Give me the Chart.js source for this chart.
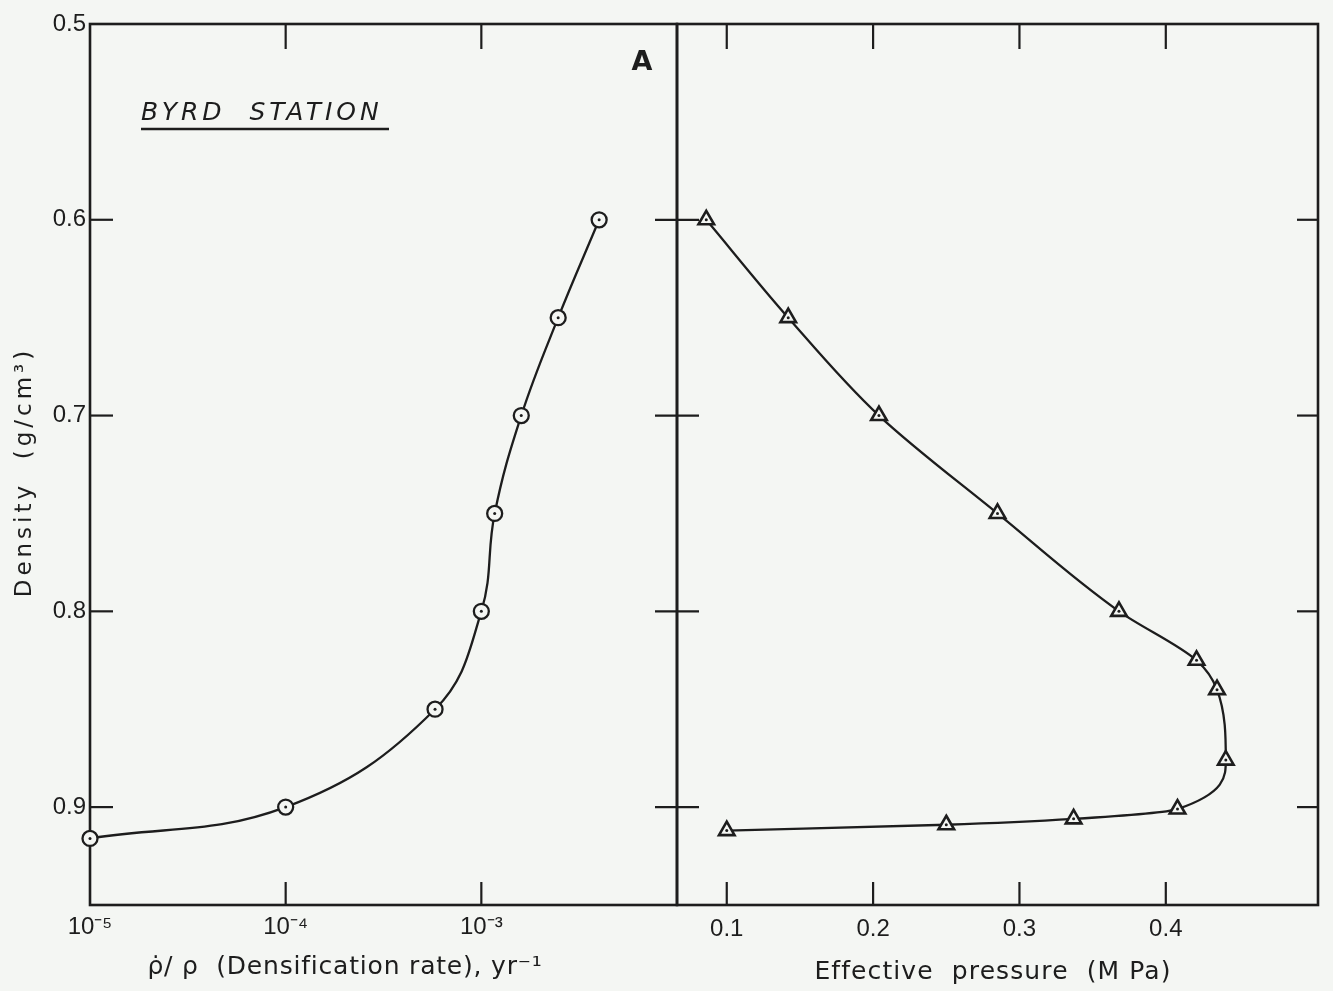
<!DOCTYPE html>
<html><head><meta charset="utf-8">
<script src="https://cdn.jsdelivr.net/npm/chart.js@4/dist/chart.umd.min.js"></script>
<style>
html,body{margin:0;padding:0;background:#f4f6f3;width:1333px;height:991px;overflow:hidden;}
#a{position:absolute;left:0;top:0;}
#b{position:absolute;left:640px;top:0;}
</style></head><body>
<canvas id="a" width="700" height="991"></canvas>
<canvas id="b" width="693" height="991"></canvas>
<script>
// ---- data ----
const rateA     = [1e-5, 1e-4, 5.8e-4, 1.0e-3, 1.17e-3, 1.6e-3, 2.47e-3, 4.0e-3];
const densityA  = [0.916, 0.900, 0.850, 0.800, 0.750, 0.700, 0.650, 0.600];
const pressureB = [0.086, 0.142, 0.204, 0.285, 0.368, 0.421, 0.435, 0.441, 0.408, 0.337, 0.250, 0.100];
const densityB  = [0.600, 0.650, 0.700, 0.750, 0.800, 0.825, 0.840, 0.876, 0.901, 0.906, 0.909, 0.912];
const rateTicks = [1e-5, 1e-4, 1e-3];
const rateTickLabels = ['10⁻⁵', '10⁻⁴', '10⁻³'];
const densityTicks = [0.5, 0.6, 0.7, 0.8, 0.9];
const pressureTicks = [0.1, 0.2, 0.3, 0.4];
const pressureTickLabels = ['0.1', '0.2', '0.3', '0.4'];

const ink = '#1d1d1d';
const bg = '#f4f6f3';
const tickFont = {family: 'Liberation Sans', size: 24};

function line(ctx, x1, y1, x2, y2) { ctx.beginPath(); ctx.moveTo(x1, y1); ctx.lineTo(x2, y2); ctx.stroke(); }

const ptsA = rateA.map((x, i) => ({x, y: densityA[i]}));
const ptsB = pressureB.map((x, i) => ({x, y: densityB[i]}));

const framePluginA = {
  id: 'frameA',
  beforeDatasetsDraw(chart) {
    const ctx = chart.ctx, ca = chart.chartArea, xs = chart.scales.x, ys = chart.scales.y;
    ctx.save();
    ctx.strokeStyle = ink; ctx.lineWidth = 2.6;
    ctx.strokeRect(ca.left, ca.top, ca.right - ca.left, ca.bottom - ca.top);
    ctx.lineWidth = 2.2;
    rateTicks.slice(1).forEach(v => {
      const px = xs.getPixelForValue(v);
      line(ctx, px, ca.top, px, ca.top + 25);
      line(ctx, px, ca.bottom, px, ca.bottom - 23);
    });
    densityTicks.slice(1).forEach(v => {
      const py = ys.getPixelForValue(v);
      line(ctx, ca.left, py, ca.left + 23, py);
    });
    ctx.fillStyle = ink;
    ctx.font = 'bold 27px "DejaVu Sans"';
    ctx.textAlign = 'center'; ctx.textBaseline = 'middle';
    ctx.fillText('A', 642, 63);
    ctx.font = 'oblique 25px "DejaVu Sans"';
    ctx.textAlign = 'left'; ctx.textBaseline = 'alphabetic';
    ctx.letterSpacing = '4px';
    ctx.fillText('BYRD  STATION', 141, 120);
    ctx.letterSpacing = '0px';
    ctx.lineWidth = 2.6;
    line(ctx, 141, 129, 389, 129);
    // x-axis title
    ctx.font = '25px "DejaVu Sans"';
    ctx.letterSpacing = '0.8px';
    ctx.textAlign = 'center'; ctx.textBaseline = 'middle';
    ctx.fillText('ρ̇/ ρ  (Densification rate), yr⁻¹', 345, 967);
    // y-axis title
    ctx.save();
    ctx.translate(25, 472);
    ctx.rotate(-Math.PI / 2);
    ctx.font = '23px "DejaVu Sans"';
    ctx.letterSpacing = '4px';
    ctx.fillText('Density  (g/cm³)', 0, 0);
    ctx.restore();
    ctx.restore();
  }
};

const framePluginB = {
  id: 'frameB',
  beforeDatasetsDraw(chart) {
    const ctx = chart.ctx, ca = chart.chartArea, xs = chart.scales.x, ys = chart.scales.y;
    ctx.save();
    ctx.strokeStyle = ink; ctx.lineWidth = 2.6;
    ctx.strokeRect(ca.left, ca.top, ca.right - ca.left, ca.bottom - ca.top);
    ctx.lineWidth = 2.2;
    pressureTicks.forEach(v => {
      const px = xs.getPixelForValue(v);
      line(ctx, px, ca.top, px, ca.top + 25);
      line(ctx, px, ca.bottom, px, ca.bottom - 23);
    });
    densityTicks.slice(1).forEach(v => {
      const py = ys.getPixelForValue(v);
      line(ctx, ca.left - 22, py, ca.left + 22, py);
      line(ctx, ca.right, py, ca.right - 21, py);
    });
    ctx.fillStyle = ink;
    ctx.font = 'bold 27px "DejaVu Sans"';
    ctx.textAlign = 'center'; ctx.textBaseline = 'middle';
    ctx.fillText('B', 717, 63);
    ctx.font = '25px "DejaVu Sans"';
    ctx.letterSpacing = '1.1px';
    ctx.fillText('Effective  pressure  (M Pa)', 993 - 640, 972);
    ctx.restore();
  }
};

function curveOpts(pts, style, r, bw, monotone) {
  const lineDs = {data: pts, borderColor: ink, borderWidth: 2.3, fill: false,
     pointStyle: style, pointRadius: r, pointBorderWidth: bw, pointBorderColor: ink,
     pointBackgroundColor: bg, order: 1, clip: false};
  if (monotone) { lineDs.cubicInterpolationMode = 'monotone'; } else { lineDs.tension = 0.4; }
  return [
    {data: pts, showLine: false, pointRadius: 1.5, pointBackgroundColor: ink, pointBorderWidth: 0, order: 0, clip: false},
    lineDs
  ];
}

new Chart(document.getElementById('a'), {
  type: 'line',
  data: {datasets: curveOpts(ptsA, 'circle', 7.5, 2.3, false)},
  options: {
    responsive: false, animation: false, events: [],
    layout: {padding: {top: 24, right: 23, left: 8, bottom: 0}},
    plugins: {legend: {display: false}, tooltip: {enabled: false}},
    scales: {
      x: {
        type: 'logarithmic', min: 1e-5, max: 1e-2,
        afterBuildTicks: s => { s.ticks = rateTicks.map(v => ({value: v})); },
        afterFit: s => { s.height = 86; },
        ticks: {
          color: ink, font: tickFont, padding: 8, maxRotation: 0, autoSkip: false,
          callback: (v) => { const i = rateTicks.indexOf(v); return i >= 0 ? rateTickLabels[i] : ''; }
        },
        grid: {display: false, drawTicks: false}, border: {display: false}
      },
      y: {
        type: 'linear', min: 0.5, max: 0.95, reverse: true,
        afterBuildTicks: s => { s.ticks = densityTicks.map(v => ({value: v})); },
        afterFit: s => { s.width = 82; },
        ticks: {color: ink, font: tickFont, padding: 4, callback: v => v.toFixed(1)},
        grid: {display: false, drawTicks: false}, border: {display: false}
      }
    }
  },
  plugins: [framePluginA]
});

new Chart(document.getElementById('b'), {
  type: 'line',
  data: {datasets: curveOpts(ptsB, 'triangle', 9, 2.6, true)},
  options: {
    indexAxis: 'y',
    responsive: false, animation: false, events: [],
    layout: {padding: {top: 24, right: 15, left: 37, bottom: 0}},
    plugins: {legend: {display: false}, tooltip: {enabled: false}},
    scales: {
      x: {
        type: 'linear', min: 0.066, max: 0.504,
        afterBuildTicks: s => { s.ticks = pressureTicks.map(v => ({value: v})); },
        afterFit: s => { s.height = 86; },
        ticks: {
          color: ink, font: tickFont, padding: 10, maxRotation: 0, autoSkip: false,
          callback: (v) => { const i = pressureTicks.indexOf(v); return i >= 0 ? pressureTickLabels[i] : ''; }
        },
        grid: {display: false, drawTicks: false}, border: {display: false}
      },
      y: {
        type: 'linear', min: 0.5, max: 0.95, reverse: true, display: false
      }
    }
  },
  plugins: [framePluginB]
});
</script>
</body></html>
